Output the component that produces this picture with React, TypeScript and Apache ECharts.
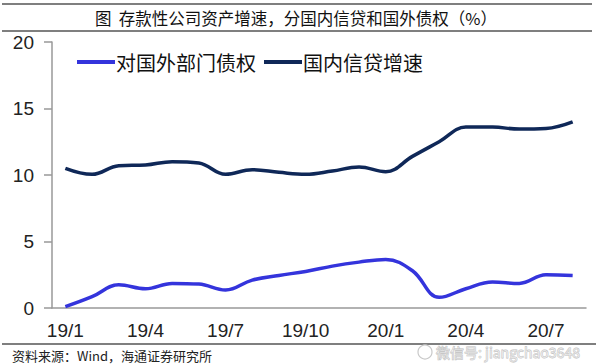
import React, { useEffect, useRef } from "react";
import * as echarts from "echarts";

const categories = [
  "19/1", "19/2", "19/3", "19/4", "19/5", "19/6", "19/7", "19/8", "19/9", "19/10",
  "19/11", "19/12", "20/1", "20/2", "20/3", "20/4", "20/5", "20/6", "20/7", "20/8",
];
const foreignClaims = [
  0.1, 0.85, 1.75, 1.45, 1.85, 1.8, 1.35, 2.1, 2.45, 2.75,
  3.15, 3.45, 3.65, 2.8, 0.8, 1.45, 1.95, 1.85, 2.5, 2.45,
];
const domesticCredit = [
  10.5, 10.05, 10.7, 10.75, 11.0, 10.9, 10.05, 10.4, 10.2, 10.05,
  10.3, 10.6, 10.25, 11.4, 12.5, 13.6, 13.6, 13.45, 13.5, 14.0,
];
const seriesNames = ["对国外部门债权", "国内信贷增速"];
const title = "图  存款性公司资产增速，分国内信贷和国外债权（%）";
const source = "资料来源：Wind，海通证券研究所";
const watermark = "微信号: jiangchao3648";

const CJK = '"Noto Sans CJK SC", "Noto Sans", sans-serif';
const LAT = '"Liberation Sans", Arial, sans-serif';

export default function App() {
  const ref = useRef<HTMLDivElement>(null);
  useEffect(() => {
    if (!ref.current) return;
    const chart = echarts.init(ref.current, null, { renderer: "svg" });
    chart.setOption({
      animation: false,
      backgroundColor: "#ffffff",
      grid: { left: 52, right: 14, top: 42, bottom: 56, containLabel: false },
      legend: {
        left: 72,
        top: 47,
        icon: "rect",
        itemWidth: 38,
        itemHeight: 4,
        itemGap: 8,
        textStyle: { fontFamily: CJK, fontSize: 20, color: "#111", padding: [0, 0, 0, -4] },
        data: seriesNames,
      },
      xAxis: {
        type: "category",
        data: categories,
        boundaryGap: true,
        axisLine: { lineStyle: { color: "#999", width: 1.5 } },
        axisTick: { interval: 2, length: 6, lineStyle: { color: "#999", width: 1.5 } },
        axisLabel: {
          interval: 2,
          fontFamily: LAT,
          fontSize: 19,
          color: "#222",
          margin: 13,
        },
      },
      yAxis: {
        type: "value",
        min: 0,
        max: 20,
        interval: 5,
        splitLine: { show: false },
        axisLine: { show: true, lineStyle: { color: "#999", width: 1.5 } },
        axisTick: { show: true, inside: false, length: 8, lineStyle: { color: "#999", width: 1.5 } },
        axisLabel: { fontFamily: LAT, fontSize: 19, color: "#222", margin: 18 },
      },
      series: [
        {
          name: seriesNames[0],
          type: "line",
          data: foreignClaims,
          smooth: 0.4,
          symbol: "none",
          lineStyle: { color: "#3434dc", width: 3.5 },
          itemStyle: { color: "#3434dc" },
        },
        {
          name: seriesNames[1],
          type: "line",
          data: domesticCredit,
          smooth: 0.4,
          symbol: "none",
          lineStyle: { color: "#0f2858", width: 3.5 },
          itemStyle: { color: "#0f2858" },
        },
      ],
      graphic: [
        { type: "line", shape: { x1: 2, y1: 4, x2: 592, y2: 4 }, style: { stroke: "#555", lineWidth: 1.5 } },
        { type: "line", shape: { x1: 2, y1: 31, x2: 592, y2: 31 }, style: { stroke: "#555", lineWidth: 1.5 } },
        { type: "line", shape: { x1: 2, y1: 344, x2: 596, y2: 344 }, style: { stroke: "#555", lineWidth: 1.5 } },
        {
          type: "text",
          x: 296,
          y: 18,
          style: {
            text: title,
            fontFamily: CJK,
            fontSize: 16.5,
            fill: "#111",
            align: "center",
            verticalAlign: "middle",
          },
        },
        {
          type: "text",
          x: 12,
          y: 355,
          style: {
            text: source,
            fontFamily: CJK,
            fontSize: 13,
            fill: "#222",
            align: "left",
            verticalAlign: "middle",
          },
        },
        {
          type: "circle",
          shape: { cx: 425, cy: 352, r: 7 },
          style: { fill: "rgba(255,255,255,0.6)", stroke: "#c8c8c8", lineWidth: 1.2 },
        },
        {
          type: "text",
          x: 436,
          y: 352,
          style: {
            text: watermark,
            fontFamily: CJK,
            fontSize: 14,
            fill: "rgba(255,255,255,0.5)",
            stroke: "#bdbdbd",
            lineWidth: 0.8,
            align: "left",
            verticalAlign: "middle",
          },
        },
      ],
    });
    return () => chart.dispose();
  }, []);
  return <div ref={ref} style={{ width: 600, height: 364, position: "absolute", left: 0, top: 0 }} />;
}
